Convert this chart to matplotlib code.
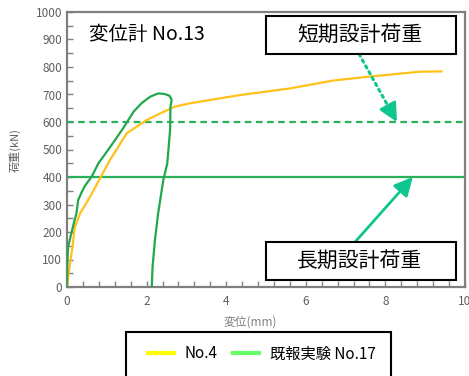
import matplotlib
matplotlib.use("Agg")
import matplotlib.pyplot as plt
from matplotlib.patches import Rectangle
from matplotlib.ticker import MultipleLocator

plt.rcParams['font.family'] = ['Noto Sans CJK JP', 'DejaVu Sans']

# Load-displacement data (displacement in mm, load in kN)
no4_disp = [0, 0.075, 0.14, 0.18, 0.2, 0.33, 0.58, 0.83, 1.08, 1.29, 1.5, 1.75,
            2.0, 2.34, 2.71, 3.09, 4.35, 5.6, 6.7, 7.6, 8.87, 9.41]
no4_load = [0, 86, 147, 201, 219, 268, 328, 395, 462, 510, 559, 583,
            607, 631, 656, 668, 698, 722, 751, 765, 783, 784]

no17_disp = [0, 0.01, 0.03, 0.075, 0.16, 0.24, 0.28, 0.37, 0.45, 0.62, 0.79, 1.0,
             1.21, 1.41, 1.54, 1.67, 1.87, 2.09, 2.29, 2.45, 2.58, 2.63, 2.60,
             2.59, 2.52, 2.42, 2.29, 2.21, 2.15, 2.13]
no17_load = [0, 92, 147, 175, 225, 270, 316, 345, 368, 401, 450, 492,
             535, 577, 607, 637, 668, 692, 704, 702, 695, 680, 656,
             571, 450, 389, 268, 171, 74, 0]

short_term_load = 600
long_term_load = 400

series_labels = ['No.4', '既報実験 No.17']
gauge_label = '変位計 No.13'
short_label = '短期設計荷重'
long_label = '長期設計荷重'
x_label = '変位(mm)'
y_label = '荷重(kN)'

W, H = 469, 376
fig = plt.figure(figsize=(W / 100, H / 100), dpi=100)
ax = fig.add_axes([67 / W, 1 - 287 / H, (465 - 67) / W, (287 - 12) / H])

green_ref = '#2bb05a'
arrow_col = '#0fc690'
tick_col = '#5f5f5f'

ax.axhline(short_term_load, color=green_ref, lw=1.6, ls=(0, (3, 2)), zorder=2)
ax.axhline(long_term_load, color=green_ref, lw=1.6, zorder=2)

ax.plot(no4_disp, no4_load, color='#ffc21a', lw=1.6, zorder=3)
ax.plot(no17_disp, no17_load, color='#22a84c', lw=1.6, zorder=4)

ax.set_xlim(0, 10)
ax.set_ylim(0, 1000)
ax.xaxis.set_major_locator(MultipleLocator(2))
ax.xaxis.set_minor_locator(MultipleLocator(0.4))
ax.yaxis.set_major_locator(MultipleLocator(100))
ax.yaxis.set_minor_locator(MultipleLocator(50))
ax.tick_params(which='both', direction='in', length=4, width=1, color='#808080',
               labelcolor=tick_col, labelsize=8.5, top=False, right=False)
ax.tick_params(axis='x', pad=6)
for s in ax.spines.values():
    s.set_color('#808080')
    s.set_linewidth(1.6)

ax.text(0.55, 920, gauge_label, fontsize=14, ha='left', va='center', zorder=6)

# Design load boxes with arrows pointing at the reference lines
for (y0, y1, label) in [(847, 985, short_label), (25, 164, long_label)]:
    ax.add_patch(Rectangle((5.0, y0), 4.77, y1 - y0, facecolor='white',
                           edgecolor='black', lw=1.5, zorder=7))
    ax.text(7.35, (y0 + y1) / 2, label, fontsize=15, ha='center', va='center', zorder=8)

head = dict(arrowstyle='-|>,head_length=0.8,head_width=0.4', color=arrow_col, lw=2,
            mutation_scale=14, shrinkA=0, shrinkB=0)

# dotted leader with a solid head
sx, sy, tx, ty = 7.34, 847, 8.29, short_term_load
ax.annotate('', xy=(tx, ty), xytext=(sx, sy),
            arrowprops=dict(arrowstyle='-', color=arrow_col, lw=2.2,
                            linestyle=(0, (0.8, 1.4)), shrinkA=0, shrinkB=6), zorder=6)
ax.annotate('', xy=(tx, ty), xytext=(tx - 0.15 * (tx - sx), ty - 0.15 * (ty - sy)),
            arrowprops=head, zorder=6)

ax.annotate('', xy=(8.69, long_term_load), xytext=(7.24, 164),
            arrowprops=head, zorder=6)

fig.text(250 / W, 1 - 322 / H, x_label, fontsize=8.5, color='#7f7f7f',
         ha='center', va='center')
fig.text(15 / W, 1 - 150 / H, y_label, fontsize=8, color='#5f5f5f',
         ha='center', va='center', rotation=90)

# Legend panel below the chart
fig.add_artist(Rectangle((126 / W, 1 - 385 / H), (391 - 126) / W, (385 - 332) / H,
                         transform=fig.transFigure, facecolor='white',
                         edgecolor='black', lw=1.5, clip_on=False))
h1, = ax.plot([], [], color='#ffff00', lw=3)
h2, = ax.plot([], [], color='#66ff66', lw=3)
fig.legend([h1, h2], series_labels, loc='center', ncol=2, frameon=False,
           bbox_to_anchor=(262 / W, 1 - 354 / H), fontsize=11,
           handlelength=1.7, handletextpad=0.7, columnspacing=1.0)

fig.savefig('out.png', dpi=100)
